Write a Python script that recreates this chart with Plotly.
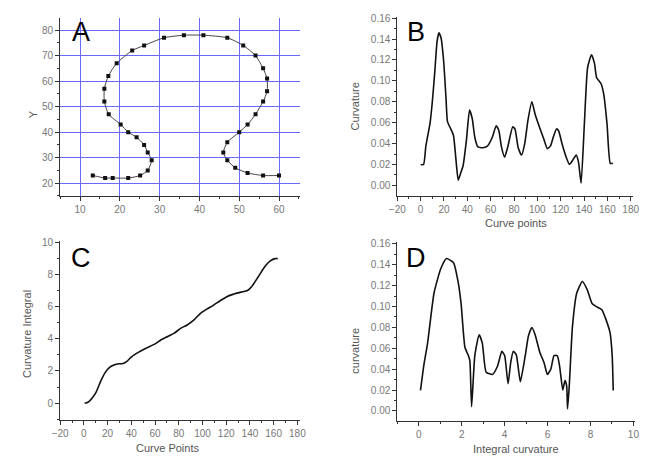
import plotly.graph_objects as go

# ---------- Panel A: contour points ----------
a_x = [13.2, 16.3, 18.2, 22.1, 25.1, 27.0, 28.0, 27.0, 26.1, 24.2, 22.1, 20.2, 17.2, 16.1, 16.1,
       17.1, 19.2, 23.1, 26.1, 31.1, 36.1, 41.0, 47.0, 51.0, 54.1, 56.0, 57.0, 57.0, 56.0, 54.1,
       52.1, 50.0, 47.0, 46.0, 47.0, 49.0, 52.1, 56.0, 60.0]
a_y = [23, 22, 22, 22, 23, 25, 29, 32, 35, 38, 40, 43, 47, 52, 57,
       62, 67, 72, 74, 77, 78, 78, 77, 74, 70, 65, 61, 56, 52, 47,
       43, 40, 36, 32, 29, 26, 24, 23, 23]

# ---------- Panel B: curvature vs curve points ----------
b_x = [0, 2.5, 4.4, 6, 8, 10, 12.2, 14, 15.6, 17.5, 19.7, 21.7, 23, 25.8, 28.1, 30.3, 32.2, 34.4,
       36.4, 39.2, 41.9, 44.2, 46.4, 48.9, 53.1, 57.2, 61.4, 64.7, 66.9, 69.2, 71.9, 74.7, 78.9,
       80.8, 83.6, 86.4, 89.2, 91.9, 95.3, 98.1, 101.7, 105.3, 108.6, 111.4, 113.6, 116.4, 118.3,
       121.1, 124.7, 127.5, 130.3, 133.3, 135.3, 137.5, 140.3, 143.1, 146.4, 148.9, 150.8, 154.7,
       156.9, 159.7, 162.5, 164.7]
b_y = [0.02, 0.02, 0.037, 0.047, 0.059, 0.08, 0.11, 0.137, 0.146, 0.141, 0.119, 0.084, 0.061, 0.054,
       0.048, 0.024, 0.005, 0.012, 0.019, 0.043, 0.072, 0.064, 0.046, 0.037, 0.036, 0.0375, 0.046,
       0.057, 0.053, 0.037, 0.027, 0.037, 0.056, 0.054, 0.036, 0.029, 0.040, 0.062, 0.080, 0.068,
       0.056, 0.045, 0.035, 0.038, 0.046, 0.054, 0.052, 0.040, 0.027, 0.020, 0.024, 0.029, 0.022,
       0.002, 0.059, 0.113, 0.125, 0.117, 0.103, 0.097, 0.087, 0.059, 0.021, 0.021]

# ---------- Panel C: curvature integral ----------
c_x = [0.6, 3.4, 7.5, 10.2, 14.3, 17.9, 21.2, 25.3, 29.5, 32.2, 36.3, 40.4, 45.9, 52.8, 59.7, 65.2,
       70.7, 76.2, 81.6, 87.1, 92.6, 98.1, 103.6, 109.1, 114.6, 120.1, 125.6, 132.5, 138, 142.1,
       147.6, 153.1, 157.2, 161.3, 163.5]
c_y = [0, 0.06, 0.37, 0.67, 1.39, 1.9, 2.2, 2.37, 2.45, 2.45, 2.6, 2.9, 3.16, 3.43, 3.67, 3.94,
       4.14, 4.35, 4.65, 4.86, 5.16, 5.57, 5.84, 6.08, 6.35, 6.6, 6.76, 6.9, 7.0, 7.3,
       7.92, 8.53, 8.84, 8.98, 8.98]

# ---------- Panel D: curvature vs integral curvature ----------
d_x = [0.08, 0.23, 0.41, 0.71, 1.02, 1.29, 1.62, 1.82, 1.97, 2.15, 2.31, 2.38, 2.46, 2.61, 2.81,
       2.96, 3.14, 3.44, 3.67, 3.87, 4.0, 4.16, 4.28, 4.4, 4.54, 4.73, 4.96, 5.11, 5.27, 5.42,
       5.64, 5.84, 5.99, 6.15, 6.3, 6.45, 6.56, 6.71, 6.81, 6.89, 6.93, 7.01, 7.16, 7.36, 7.62,
       7.85, 8.07, 8.27, 8.53, 8.73, 8.91, 9.01, 9.06]
d_y = [0.0196, 0.043, 0.065, 0.113, 0.136, 0.146, 0.142, 0.125, 0.103, 0.061, 0.053, 0.048, 0.004,
       0.053, 0.073, 0.065, 0.037, 0.035, 0.043, 0.057, 0.053, 0.026, 0.046, 0.057, 0.054, 0.028,
       0.053, 0.072, 0.080, 0.073, 0.056, 0.046, 0.035, 0.040, 0.053, 0.053, 0.043, 0.020, 0.029,
       0.024, 0.002, 0.024, 0.081, 0.113, 0.124, 0.116, 0.103, 0.100, 0.097, 0.087, 0.075, 0.053,
       0.0196]

W, H = 664, 459
FONT = "Liberation Sans, Arial, sans-serif"


def dom_x(a, b):
    return [a / W, b / W]


def dom_y(top, bottom):
    return [1 - bottom / H, 1 - top / H]


def axis_style(domain, rng, dtick, minor_dtick, anchor, grid=False, fmt=None):
    d = dict(
        domain=domain, range=rng, dtick=dtick, anchor=anchor,
        showline=True, linecolor="#333", linewidth=1,
        ticks="outside", ticklen=4, tickcolor="#333", tickwidth=1,
        tickfont=dict(family=FONT, size=10, color="#777"),
        minor=dict(ticks="outside", ticklen=2, dtick=minor_dtick, tickcolor="#333", showgrid=False),
        showgrid=grid, gridcolor="rgb(105,105,255)", gridwidth=1,
        zeroline=False, mirror=False, fixedrange=True,
    )
    if fmt:
        d["tickformat"] = fmt
    return d


fig = go.Figure()
fig.add_trace(go.Scatter(x=a_x, y=a_y, mode="lines+markers", xaxis="x", yaxis="y",
                         line=dict(color="#444", width=1, shape="spline", smoothing=0.6),
                         marker=dict(symbol="square", size=4, color="#111")))
fig.add_trace(go.Scatter(x=b_x, y=b_y, mode="lines", xaxis="x2", yaxis="y2",
                         line=dict(color="#111", width=1.6, shape="spline", smoothing=0.5)))
fig.add_trace(go.Scatter(x=c_x, y=c_y, mode="lines", xaxis="x3", yaxis="y3",
                         line=dict(color="#111", width=1.6, shape="spline", smoothing=0.6)))
fig.add_trace(go.Scatter(x=d_x, y=d_y, mode="lines", xaxis="x4", yaxis="y4",
                         line=dict(color="#111", width=1.6, shape="spline", smoothing=0.5)))

layout = dict(
    width=W, height=H, margin=dict(l=0, r=0, t=0, b=0),
    paper_bgcolor="white", plot_bgcolor="white", showlegend=False,
    xaxis=axis_style(dom_x(53.3, 298), [5, 65.2], 10, 5, "y", grid=True),
    yaxis=axis_style(dom_y(13, 193), [15, 84.8], 10, 5, "x", grid=True),
    xaxis2=axis_style(dom_x(397.7, 638.5), [-20, 182], 20, 10, "y2"),
    yaxis2=axis_style(dom_y(11.7, 192.7), [-0.0098, 0.1615], 0.02, 0.01, "x2", fmt=".2f"),
    xaxis3=axis_style(dom_x(53.3, 298), [-20, 182], 20, 10, "y3"),
    yaxis3=axis_style(dom_y(239, 420), [-1.07, 10.05], 2, 1, "x3"),
    xaxis4=axis_style(dom_x(397.7, 640), [-1, 10.05], 2, 1, "y4"),
    yaxis4=axis_style(dom_y(240, 420.7), [-0.0098, 0.1615], 0.02, 0.01, "x4", fmt=".2f"),
)
fig.update_layout(**layout)


def ann(text, x, y, size=11, color="#444", angle=0, bold=True):
    t = f"<b>{text}</b>" if bold else text
    fig.add_annotation(text=t, x=x / W, y=1 - y / H, xref="paper", yref="paper",
                       showarrow=False, textangle=angle, xanchor="center", yanchor="middle",
                       font=dict(family=FONT, size=size, color=color))


# panel letters
ann("A", 75, 27, size=27, color="#000", bold=False)
ann("B", 417, 27, size=27, color="#000", bold=False)
ann("C", 75, 256, size=27, color="#000", bold=False)
ann("D", 417, 256, size=27, color="#000", bold=False)

# axis titles
ann("Y", 25, 110, angle=-90, bold=False, color="#555")
ann("Curvature", 354, 103, angle=-90, bold=False, color="#555")
ann("Curve points", 519, 220, bold=False, color="#555")
ann("Curvature Integral", 20, 333, angle=-90, bold=False, color="#555")
ann("Curve Points", 163, 448, bold=False, color="#555")
ann("curvature", 355, 350, angle=-90, bold=False, color="#555")
ann("Integral curvature", 519, 449, bold=False, color="#555")

fig.write_html("out.html", config={"displayModeBar": False, "staticPlot": True},
               post_script="document.body.style.margin='0';document.body.style.overflow='hidden';")
